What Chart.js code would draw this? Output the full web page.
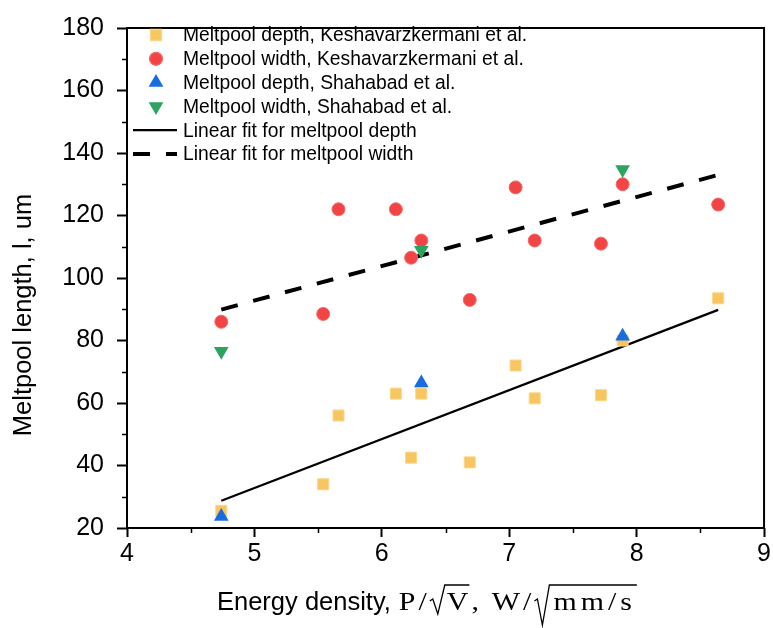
<!DOCTYPE html>
<html>
<head>
<meta charset="utf-8">
<title>Meltpool length vs energy density</title>
<script src="https://cdn.jsdelivr.net/npm/chart.js@4.4.1/dist/chart.umd.min.js"></script>
<style>
  html, body { margin: 0; padding: 0; background: #fff; }
</style>
</head>
<body>
<canvas id="chartMeltpool" width="773" height="628"></canvas>
<script>
// Keshavarzkermani et al.
const keshEnergy = [4.74, 5.54, 5.66, 6.11, 6.31, 6.23, 6.69, 7.05, 7.20, 7.72, 7.89, 8.64];
const keshDepth  = [25.5, 34, 56, 63, 63, 42.5, 41, 72, 61.5, 62.5, 80, 93.5];
const keshWidth  = [86, 88.5, 122, 122, 112, 106.5, 93, 129, 112, 111, 130, 123.5];

// Shahabad et al.
const shahEnergy = [4.74, 6.31, 7.89];
const shahDepth  = [23.7, 66.4, 81.4];
const shahWidth  = [76.6, 108.9, 134.7];

// Linear fits (end points)
const fitEnergy   = [4.74, 8.64];
const fitDepthVal = [28.7, 89.8];
const fitWidthVal = [89.9, 133];

// Axis ticks
const xMajor = [4, 5, 6, 7, 8, 9];
const xMinor = [4.5, 5.5, 6.5, 7.5, 8.5];
const yMajor = [20, 40, 60, 80, 100, 120, 140, 160, 180];
const yMinor = [30, 50, 70, 90, 110, 130, 150, 170];

const SANS = '"Liberation Sans", Arial, sans-serif';
const SERIF = '"Liberation Serif", "Times New Roman", serif';

const toPoints = (xs, ys) => xs.map((x, i) => ({ x: x, y: ys[i] }));

// Frame, minor ticks, axis titles and legend
const decorations = {
  id: 'decorations',
  afterDraw(chart) {
    const ctx = chart.ctx;
    const area = chart.chartArea;
    const xs = chart.scales.x;
    const ys = chart.scales.y;

    ctx.save();
    // frame
    ctx.strokeStyle = '#000';
    ctx.lineWidth = 2;
    ctx.strokeRect(area.left, area.top, area.right - area.left, area.bottom - area.top);

    // minor ticks
    ctx.lineWidth = 1.5;
    ctx.beginPath();
    xMinor.forEach(v => {
      const px = Math.round(xs.getPixelForValue(v)) + 0.5;
      ctx.moveTo(px, area.bottom);
      ctx.lineTo(px, area.bottom + 5);
    });
    yMinor.forEach(v => {
      const py = Math.round(ys.getPixelForValue(v)) + 0.5;
      ctx.moveTo(area.left, py);
      ctx.lineTo(area.left - 5, py);
    });
    ctx.stroke();

    // y title
    ctx.fillStyle = '#000';
    ctx.font = '25.5px ' + SANS;
    ctx.textAlign = 'center';
    ctx.textBaseline = 'alphabetic';
    ctx.save();
    ctx.translate(31, 315);
    ctx.rotate(-Math.PI / 2);
    ctx.fillText('Meltpool length, l, um', 0, 0);
    ctx.restore();

    // x title
    drawXTitle(ctx, 217, 610);

    // legend
    drawLegend(ctx, chart);
    ctx.restore();
  }
};

function drawRadical(ctx, x, base, right, depth) {
  ctx.beginPath();
  ctx.lineWidth = 1.3;
  ctx.moveTo(x, base - 9);
  ctx.lineTo(x + 3, base - 11);
  ctx.lineTo(x + 8, base + depth);
  ctx.lineTo(x + 15, base - 25);
  ctx.lineTo(right, base - 25);
  ctx.stroke();
}

function drawXTitle(ctx, x0, base) {
  ctx.textAlign = 'left';
  ctx.textBaseline = 'alphabetic';
  ctx.font = '25.5px ' + SANS;
  ctx.fillText('Energy density,', x0, base);
  let x = x0 + ctx.measureText('Energy density,').width + 8;

  // math part: slightly wide serif glyphs
  ctx.font = '26px ' + SERIF;
  const sx = 1.15;
  const put = (s, gap) => {
    ctx.save();
    ctx.translate(x, base);
    ctx.scale(sx, 1);
    ctx.fillText(s, 0, 0);
    ctx.restore();
    x += ctx.measureText(s).width * sx + gap;
  };
  const widthOf = (arr, gap) => arr.reduce((a, s) => a + ctx.measureText(s).width * sx + gap, 0);

  put('P', 3); put('/', 3);
  drawRadical(ctx, x, base, x + 17 + widthOf(['V'], 1), 4);
  x += 17;
  put('V', 3); put(',', 13);
  put('W', 3); put('/', 3);
  const inner = ['m', 'm', '/', 's'];
  drawRadical(ctx, x, base, x + 19 + widthOf(inner, 4) + 1, 15);
  x += 19;
  inner.forEach(s => put(s, 4));
}

function drawLegend(ctx, chart) {
  const markerX = 156, textX = 183, y0 = 35, step = 23.8;
  ctx.font = '19.3px ' + SANS;
  ctx.textAlign = 'left';
  ctx.textBaseline = 'middle';
  chart.data.datasets.forEach((ds, i) => {
    const y = y0 + i * step;
    if (ds.showLine) {
      ctx.save();
      ctx.strokeStyle = ds.borderColor;
      ctx.lineWidth = ds.borderWidth;
      ctx.setLineDash(ds.borderDash || []);
      ctx.beginPath();
      ctx.moveTo(133, y);
      ctx.lineTo(177, y);
      ctx.stroke();
      ctx.restore();
    } else {
      ctx.save();
      ctx.fillStyle = ds.backgroundColor;
      ctx.strokeStyle = ds.borderColor;
      Chart.helpers.drawPoint(ctx, {
        pointStyle: ds.pointStyle,
        rotation: ds.rotation || 0,
        radius: ds.pointRadius,
        borderWidth: ds.borderWidth
      }, markerX, y);
      ctx.restore();
    }
    ctx.fillStyle = '#000';
    ctx.fillText(ds.label, textX, y + 1);
  });
}

const tickFont = { family: SANS, size: 25 };

new Chart(document.getElementById('chartMeltpool'), {
  type: 'scatter',
  data: {
    datasets: [
      {
        label: 'Meltpool depth, Keshavarzkermani et al.',
        data: toPoints(keshEnergy, keshDepth),
        pointStyle: 'rect',
        pointRadius: 7.8,
        backgroundColor: '#F8C660',
        borderColor: '#FBD68A',
        borderWidth: 1,
        order: 4
      },
      {
        label: 'Meltpool width, Keshavarzkermani et al.',
        data: toPoints(keshEnergy, keshWidth),
        pointStyle: 'circle',
        pointRadius: 6.5,
        backgroundColor: '#F24444',
        borderColor: '#F46A6A',
        borderWidth: 1,
        order: 3
      },
      {
        label: 'Meltpool depth, Shahabad et al.',
        data: toPoints(shahEnergy, shahDepth),
        pointStyle: 'triangle',
        pointRadius: 8.5,
        backgroundColor: '#176CE0',
        borderColor: '#176CE0',
        borderWidth: 0,
        order: 2
      },
      {
        label: 'Meltpool width, Shahabad et al.',
        data: toPoints(shahEnergy, shahWidth),
        pointStyle: 'triangle',
        rotation: 180,
        pointRadius: 8.5,
        backgroundColor: '#2CA45F',
        borderColor: '#2CA45F',
        borderWidth: 0,
        order: 1
      },
      {
        label: 'Linear fit for meltpool depth',
        data: toPoints(fitEnergy, fitDepthVal),
        showLine: true,
        borderColor: '#000',
        borderWidth: 2.2,
        pointRadius: 0,
        order: 6
      },
      {
        label: 'Linear fit for meltpool width',
        data: toPoints(fitEnergy, fitWidthVal),
        showLine: true,
        borderColor: '#000',
        borderWidth: 4,
        borderDash: [17, 16],
        pointRadius: 0,
        order: 5
      }
    ]
  },
  options: {
    responsive: false,
    animation: false,
    devicePixelRatio: 1,
    layout: { padding: { top: 15, right: 6, left: 0, bottom: 0 } },
    plugins: {
      legend: { display: false },
      tooltip: { enabled: false }
    },
    scales: {
      x: {
        type: 'linear',
        min: 4,
        max: 9,
        afterBuildTicks: (scale) => { scale.ticks = xMajor.map(v => ({ value: v })); },
        afterFit: (scale) => { scale.height = 100; },
        ticks: {
          autoSkip: false,
          maxRotation: 0,
          color: '#000',
          font: tickFont,
          padding: 2,
          callback: (v) => String(v)
        },
        grid: {
          drawOnChartArea: false,
          drawTicks: true,
          tickLength: 9,
          tickWidth: 2,
          tickColor: '#000'
        },
        border: { display: false }
      },
      y: {
        type: 'linear',
        min: 20,
        max: 180,
        afterBuildTicks: (scale) => { scale.ticks = yMajor.map(v => ({ value: v })); },
        afterFit: (scale) => { scale.width = 127; },
        ticks: {
          autoSkip: false,
          color: '#000',
          font: tickFont,
          padding: 13,
          callback: (v) => String(v)
        },
        grid: {
          drawOnChartArea: false,
          drawTicks: true,
          tickLength: 10,
          tickWidth: 2,
          tickColor: '#000'
        },
        border: { display: false }
      }
    }
  },
  plugins: [decorations]
});
</script>
</body>
</html>
